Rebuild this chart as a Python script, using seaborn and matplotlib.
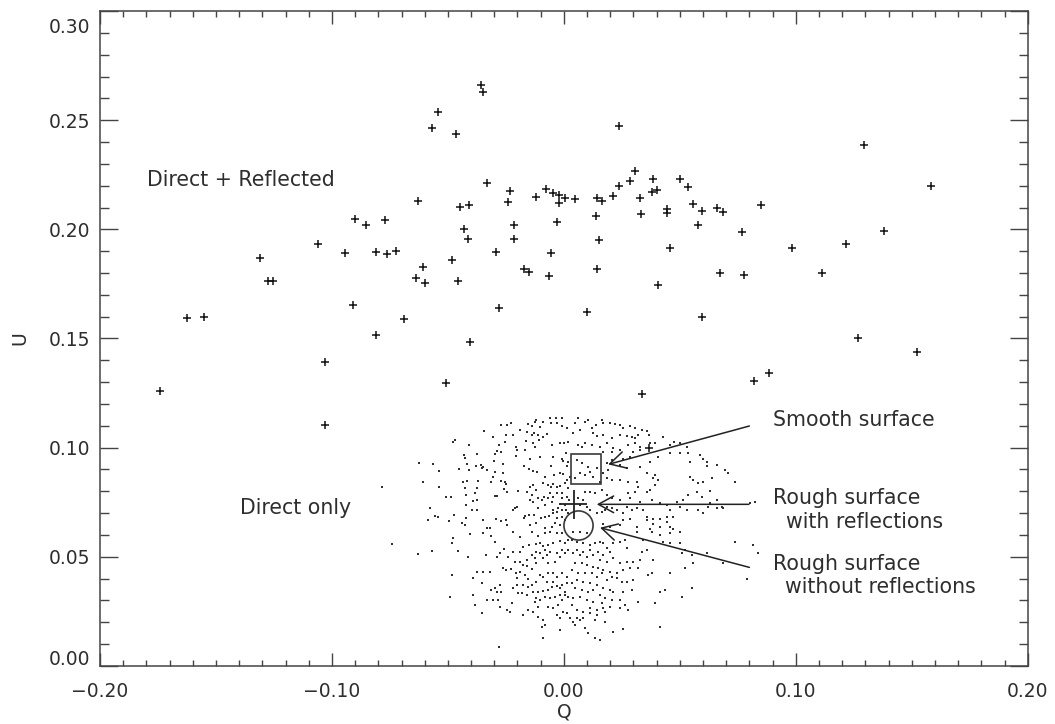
import numpy as np
import pandas as pd
import matplotlib
matplotlib.use("Agg")
import matplotlib.pyplot as plt
import seaborn as sns
from matplotlib.ticker import MultipleLocator, FuncFormatter
import matplotlib.transforms as mtransforms

# ---------------- data (Q, U) ----------------
reflected = [
    (-0.1741, 0.1261), (-0.1626, 0.1593), (-0.1550, 0.1600), (-0.1309, 0.1870),
    (-0.1274, 0.1762), (-0.1253, 0.1762), (-0.1060, 0.1935), (-0.1030, 0.1392),
    (-0.1030, 0.1104), (-0.0944, 0.1890), (-0.0909, 0.1654), (-0.0899, 0.2046),
    (-0.0854, 0.2022), (-0.0770, 0.2043), (-0.0810, 0.1896), (-0.0761, 0.1886),
    (-0.0722, 0.1902), (-0.0689, 0.1588), (-0.0810, 0.1516), (-0.0629, 0.2132),
    (-0.0607, 0.1826), (-0.0637, 0.1776), (-0.0600, 0.1756), (-0.0570, 0.2463),
    (-0.0544, 0.2539), (-0.0509, 0.1297), (-0.0357, 0.2662), (-0.0347, 0.2628),
    (-0.0465, 0.2437), (0.0239, 0.2472), (-0.0330, 0.2211), (-0.0232, 0.2177),
    (-0.0239, 0.2127), (-0.0448, 0.2103), (-0.0408, 0.2110), (-0.0432, 0.2002),
    (-0.0412, 0.1956), (-0.0481, 0.1860), (-0.0456, 0.1765), (-0.0405, 0.1484),
    (-0.0280, 0.1638), (-0.0293, 0.1895), (-0.0214, 0.2020), (-0.0216, 0.1956),
    (-0.0171, 0.1819), (-0.0150, 0.1806), (-0.0065, 0.1786), (-0.0054, 0.1893),
    (-0.0119, 0.2150), (-0.0077, 0.2187), (-0.0048, 0.2168), (-0.0022, 0.2159),
    (-0.0020, 0.2120), (0.0006, 0.2144), (0.0049, 0.2138), (-0.0030, 0.2033),
    (0.0098, 0.1623), (0.0142, 0.2145), (0.0166, 0.2130), (0.0137, 0.2063),
    (0.0153, 0.1951), (0.0142, 0.1819), (0.0211, 0.2154), (0.0238, 0.2200),
    (0.0287, 0.2223), (0.0308, 0.2266), (0.0330, 0.2143), (0.0331, 0.2071),
    (0.0337, 0.1246), (0.0384, 0.2230), (0.0381, 0.2170), (0.0403, 0.2181),
    (0.0446, 0.2092), (0.0443, 0.2074), (0.0458, 0.1913), (0.0405, 0.1744),
    (0.0499, 0.2230), (0.0534, 0.2194), (0.0558, 0.2115), (0.0596, 0.2086),
    (0.0577, 0.2022), (0.0660, 0.2099), (0.0686, 0.2078), (0.0594, 0.1600),
    (0.0673, 0.1799), (0.0768, 0.1989), (0.0778, 0.1791), (0.0849, 0.2110),
    (0.0821, 0.1305), (0.0886, 0.1341), (0.1295, 0.2387), (0.1584, 0.2200),
    (0.1379, 0.1994), (0.1217, 0.1932), (0.0985, 0.1913), (0.1114, 0.1802),
    (0.1270, 0.1502), (0.1524, 0.1438), (0.0367, 0.0997),
]

# direct-only simulated points, in thousandths of (Q, U)
direct_only_milli = [
    (-34.5,107.7),(-48.0,102.7),(-46.8,103.4),(-40.8,101.2),(-30.7,105.0),(-27.3,110.3),(-24.7,110.3),
    (-23.0,111.1),(-25.0,105.7),(-21.8,105.7),(-27.9,101.2),(-25.4,102.4),(-18.9,108.0),(-15.8,107.3),
    (-13.9,105.7),(-12.9,106.8),(-11.0,105.7),(-8.9,105.0),(-7.2,106.2),(-15.4,110.8),(-13.9,109.9),
    (-12.5,111.9),(-11.8,112.6),(-10.3,109.3),(-8.9,111.9),(-6.0,113.4),(-3.4,113.4),(-1.0,113.4),
    (-2.9,111.1),(-0.6,109.9),(1.2,108.8),(-5.7,111.4),(-16.4,103.1),(-13.5,101.9),(-10.6,103.4),
    (-5.3,101.2),(-1.7,102.2),(0.0,101.9),(1.9,102.7),(-20.7,100.1),(-20.1,98.9),(-16.8,98.9),
    (-12.5,100.4),(-28.7,98.6),(-29.7,96.9),(-26.9,98.1),(-37.6,97.1),(-43.1,96.6),(-42.7,95.4),
    (-20.7,96.1),(-14.6,95.0),(-10.3,95.8),(-4.6,95.8),(-0.6,95.0),(0.9,97.6),(1.9,93.5),
    (-30.2,94.0),(-26.4,92.5),(-41.6,92.5),(-37.9,91.7),(-35.9,92.0),(-34.8,91.2),(-33.0,89.7),
    (-35.5,90.5),(-45.4,90.0),(-40.8,89.7),(-62.3,93.1),(-56.3,92.5),(-54.0,89.2),(-17.2,91.6),
    (-15.2,90.3),(-13.5,89.2),(-11.5,88.9),(-5.6,91.6),(-0.3,94.0),(1.2,91.6),(-29.7,88.9),
    (-30.7,86.6),(-26.1,88.5),(-1.7,88.5),(-0.3,87.9),(-4.3,87.4),(-8.0,86.3),(1.2,85.1),
    (2.6,86.6),(-60.9,84.4),(-53.7,82.1),(-78.6,81.8),(-43.4,84.4),(-41.6,84.8),(-36.9,84.8),
    (-31.2,84.4),(-27.3,84.7),(-25.4,84.4),(-25.0,83.3),(-42.7,81.3),(-37.6,81.3),(-42.2,78.2),
    (-38.3,79.3),(-25.8,80.8),(-24.4,79.8),(-19.7,80.1),(-16.1,79.8),(-14.6,81.8),(-13.2,82.8),
    (-11.8,80.5),(-8.9,83.6),(-6.7,82.8),(-5.7,82.1),(-4.6,83.3),(-3.1,82.1),(-1.7,82.4),
    (0.5,83.6),(1.9,81.3),(-50.6,77.5),(-48.8,77.5),(-29.7,77.8),(-28.7,77.8),(-13.9,78.2),
    (-11.0,76.7),(-9.6,75.9),(-8.6,77.5),(-6.7,76.7),(-6.0,79.3),(-4.6,77.5),(-3.1,79.0),
    (-1.0,79.0),(-0.6,76.7),(1.2,77.2),(2.3,75.9),(-5.3,75.2),(-8.2,73.7),(-1.7,74.1),
    (0.5,73.7),(-39.3,75.6),(-37.6,75.9),(-57.5,72.1),(-42.2,73.7),(-39.8,71.4),(-37.3,71.4),
    (-21.8,71.4),(-21.1,72.5),(-20.4,72.9),(-14.6,75.9),(-13.2,75.2),(-11.0,72.1),(-4.6,71.4),
    (-3.1,70.6),(-2.4,72.1),(-1.0,71.4),(0.9,71.4),(1.9,69.8),(-55.6,68.6),(-58.5,66.8),
    (-54.2,68.0),(-49.4,66.3),(-47.4,69.1),(-42.2,67.6),(-42.7,64.5),(-43.7,65.3),(-34.8,66.8),
    (-29.3,67.2),(-26.9,66.5),(-25.0,66.8),(-17.2,67.6),(-16.6,68.6),(-14.9,69.1),(-12.9,69.1),
    (-9.7,67.6),(-8.2,68.3),(-6.3,68.6),(-4.6,69.8),(-2.8,67.6),(-1.0,68.3),(0.5,66.8),
    (-3.9,65.3),(-1.7,64.5),(-33.0,63.0),(-31.9,63.0),(-24.7,64.5),(-14.6,64.5),(-11.8,65.3),
    (-8.2,63.0),(-5.3,63.4),
    (4.8,111.1),(6.2,113.4),(9.1,111.9),(10.6,112.6),(4.1,106.8),(7.0,108.0),(12.0,108.8),
    (13.9,110.3),(16.3,112.6),(17.0,111.1),(19.9,111.4),(22.0,110.8),(24.2,110.3),(25.6,108.8),
    (28.5,109.9),(30.7,108.8),(33.5,108.0),(35.7,107.7),(36.8,105.7),(32.1,105.7),(30.7,104.2),
    (29.2,105.0),(27.1,105.3),(24.2,105.7),(20.6,104.2),(17.0,105.7),(12.7,106.8),(14.1,105.3),
    (9.1,101.9),(6.2,101.2),(7.7,100.4),(12.0,101.2),(15.6,100.4),(18.5,101.9),(21.3,99.6),
    (17.0,98.1),(20.6,98.1),(24.2,98.9),(27.8,101.2),(30.7,101.9),(32.8,100.4),(37.1,101.9),
    (39.3,101.9),(42.9,105.0),(45.8,101.2),(47.5,102.7),(50.1,101.9),(53.0,100.4),(53.7,97.3),
    (50.1,97.3),(45.8,97.6),(40.7,95.8),(37.1,93.5),(32.8,98.9),(30.0,98.1),(28.5,95.8),
    (25.6,95.0),(24.2,92.0),(27.1,90.5),(32.8,91.2),(20.6,94.3),(18.5,92.8),(5.5,94.3),
    (7.7,92.8),(10.6,91.2),(7.0,88.2),(9.1,87.4),(11.3,88.9),(14.1,90.5),(12.7,86.6),
    (4.8,85.9),(54.4,93.5),(58.7,96.6),(60.1,95.0),(61.6,93.5),(61.9,91.5),(65.9,92.0),
    (69.5,89.7),(70.9,88.2),(73.8,84.4),(54.4,86.6),(55.8,85.1),(58.0,83.6),(60.1,84.3),
    (63.7,85.9),(57.3,79.8),(59.4,77.5),(63.0,80.2),(65.9,76.2),(68.0,72.9),(65.9,72.1),
    (62.3,72.9),(60.1,69.8),(58.0,71.4),(53.0,71.4),(50.1,72.9),(45.8,71.4),(47.2,68.3),
    (44.3,66.0),(41.4,67.5),(38.6,67.5),(35.7,68.3),(34.3,71.4),(31.4,72.1),(29.2,71.4),
    (27.1,72.9),(25.6,69.8),(22.8,71.4),(20.6,72.1),(18.5,72.9),(17.7,71.4),(16.3,70.6),
    (14.1,69.8),(11.3,71.4),(9.8,72.9),(7.0,73.6),(8.4,75.9),(6.2,76.7),(9.1,79.8),
    (11.3,79.8),(13.4,79.0),(16.3,80.5),(18.5,78.2),(20.6,76.7),(24.2,75.9),(27.8,79.0),
    (30.7,79.8),(32.1,82.1),(35.7,79.8),(37.1,80.5),(39.3,82.8),(40.7,85.1),(38.6,85.9),
    (39.3,87.4),(35.7,88.2),(31.4,84.3),(27.8,84.3),(24.2,85.1),(20.6,85.1),(18.5,85.9),
    (17.0,88.2),(15.6,84.3),(19.2,89.7),(28.5,76.7),(32.8,75.2),(37.9,76.2),(41.4,74.4),
    (44.3,73.6),(48.6,75.2),(51.5,75.9),(53.7,78.2),(63.0,74.4),(68.8,72.1),(80.2,74.4),
    (82.4,75.2),(45.8,63.7),(47.2,62.9),(38.6,65.2),(35.7,66.8),(28.5,67.5),(25.6,66.8),
    (24.2,64.5),(19.9,63.7),(17.0,65.2),(31.4,63.7),(37.1,62.9),(41.4,63.7),(44.3,68.3),
    (-74.3,55.8),(-62.8,51.2),(-56.7,52.8),(-48.0,58.4),(-48.4,56.4),(-45.5,52.8),(-40.5,60.4),
    (-34.8,61.0),(-31.2,59.5),(-29.7,56.9),(-21.8,61.5),(-18.9,58.9),(-13.9,61.5),(-11.0,59.5),
    (-8.2,60.7),(-6.0,61.5),(-3.1,60.7),(-0.6,61.0),(1.9,57.7),(0.5,56.1),(-1.7,57.3),
    (-4.6,56.1),(-6.7,55.4),(-8.9,54.9),(-10.3,56.1),(-12.0,55.8),(-14.9,55.4),(-17.5,54.6),
    (-18.9,52.3),(-22.1,52.3),(-24.0,49.7),(-25.8,53.4),(-27.6,51.5),(-28.7,49.7),(-33.6,50.8),
    (-41.2,50.0),(-48.1,41.6),(-49.1,31.7),(-39.1,40.1),(-37.6,43.1),(-34.8,42.8),(-31.9,43.1),
    (-35.5,37.8),(-31.2,34.7),(-29.7,35.5),(-27.6,37.0),(-26.9,34.0),(-29.0,34.0),(-26.1,44.7),
    (-25.0,43.9),(-23.0,44.2),(-20.7,42.7),(-20.4,40.1),(-17.5,46.2),(-16.1,45.7),(-13.9,44.2),
    (-11.8,47.0),(-12.5,49.3),(-10.3,51.5),(-8.9,49.3),(-7.4,50.8),(-6.7,47.0),(-3.9,47.7),
    (-1.7,50.0),(0.5,51.5),(1.9,53.1),(-1.0,53.1),(-3.1,51.5),(-6.0,52.3),(-8.2,53.1),
    (-11.8,52.3),(-13.9,50.8),(-16.1,48.5),(-18.9,47.7),(-21.1,47.7),(-18.9,43.1),(-16.8,41.6),
    (-15.4,39.6),(-17.5,37.0),(-15.4,36.3),(-20.4,37.0),(-21.8,35.5),(-22.5,28.6),(-23.3,24.8),
    (-17.5,23.3),(-15.4,25.6),(-13.2,24.8),(-11.0,22.5),(-8.9,21.0),(-8.2,18.7),(-8.9,12.6),
    (-9.6,17.9),(-6.7,27.1),(-4.6,26.3),(-3.1,23.3),(-1.7,21.7),(-0.3,24.8),(1.2,24.0),
    (2.6,21.7),(-2.4,27.9),(-0.6,30.2),(1.9,31.7),(0.5,32.4),(-1.7,32.4),(-3.9,31.7),
    (-6.0,30.9),(-8.2,31.7),(-10.3,30.2),(-11.8,30.9),(-13.2,34.0),(-11.0,34.0),(-8.9,34.4),
    (-6.7,34.7),(-5.3,36.3),(-3.1,36.6),(-1.0,37.0),(1.2,37.8),(1.2,40.8),(-1.0,42.4),
    (-3.1,40.8),(-4.6,42.4),(-6.7,42.4),(-8.9,40.8),(-10.3,41.6),(-11.8,38.6),(-13.9,37.0),
    (-7.4,38.6),(-4.6,38.6),(-1.7,35.5),(0.5,34.0),(-11.0,27.1),(-12.5,29.4),(-16.1,32.4),
    (-18.2,33.2),(-19.7,33.5),(-24.7,25.6),(-27.6,27.1),(-33.3,30.2),(-35.5,24.0),(-38.3,27.9),
    (-39.1,32.4),(-30.4,30.2),(-28.3,30.2),(-1.7,16.4),(-27.9,8.5),
    (4.1,61.5),(7.0,61.5),(9.8,60.7),(3.4,57.7),(5.5,56.9),(8.4,56.1),(11.3,55.4),
    (13.4,56.1),(15.6,56.9),(17.0,56.1),(18.5,53.8),(21.3,56.1),(24.2,56.9),(26.4,57.7),
    (31.4,61.5),(37.9,61.5),(41.4,59.9),(45.8,60.7),(50.1,61.5),(50.1,56.1),(45.8,56.1),
    (42.9,56.9),(34.3,57.7),(27.1,53.8),(19.9,52.3),(17.0,50.8),(14.9,52.3),(11.3,53.1),
    (8.4,52.3),(5.5,53.1),(4.1,51.5),(7.0,50.8),(9.8,50.0),(12.7,50.8),(15.6,48.5),
    (18.5,47.7),(21.3,49.3),(24.2,47.0),(27.1,47.7),(30.0,47.7),(32.8,48.5),(38.6,48.5),
    (35.7,53.1),(33.5,52.3),(50.8,51.5),(52.2,53.1),(55.1,50.8),(61.6,51.5),(73.8,56.9),
    (81.7,55.4),(83.8,51.5),(68.8,47.0),(55.8,47.0),(52.2,44.7),(45.8,42.4),(37.9,42.4),
    (36.4,41.6),(32.1,44.7),(28.5,44.7),(25.6,43.9),(22.8,42.4),(19.9,43.1),(17.0,43.9),
    (14.9,44.7),(12.7,45.4),(9.8,46.2),(7.7,47.0),(4.8,47.0),(3.4,43.9),(6.2,42.4),
    (9.1,42.4),(12.0,42.4),(14.1,40.8),(16.3,42.4),(18.5,39.3),(20.6,40.8),(22.8,40.1),
    (24.9,38.6),(27.1,38.6),(30.0,39.3),(29.2,34.7),(25.6,34.0),(21.3,34.0),(19.9,34.7),
    (17.0,35.5),(14.1,37.0),(11.3,37.8),(8.4,38.6),(5.5,39.3),(3.4,37.8),(4.8,35.5),
    (7.7,34.7),(10.6,34.0),(12.7,34.7),(15.6,32.4),(17.7,30.9),(20.6,30.2),(24.2,30.2),
    (26.4,27.9),(27.8,25.6),(24.2,26.3),(19.9,27.1),(17.0,26.3),(14.1,25.6),(11.3,26.3),
    (8.4,24.8),(5.5,25.6),(3.4,27.9),(4.1,30.9),(7.0,31.7),(9.8,30.2),(12.7,29.4),
    (16.3,28.6),(17.7,24.8),(14.1,23.3),(11.3,24.0),(8.4,21.7),(5.5,21.7),(4.1,20.2),
    (4.8,18.7),(7.0,21.0),(9.1,17.2),(10.6,14.9),(13.4,21.0),(17.7,20.2),(21.3,15.6),
    (25.6,16.7),(32.1,29.4),(39.3,28.6),(41.4,34.0),(43.6,34.7),(50.8,31.7),(55.1,35.5),
    (78.8,39.6),(41.4,17.9),(13.4,12.6),(15.6,11.8),
]

smooth_q, smooth_u = [0.0094], [0.0903]
rough_refl_q, rough_refl_u = [0.0042], [0.0740]
rough_refl_qerr, rough_refl_uerr = [0.0058], [0.0065]
rough_norefl_q, rough_norefl_u = [0.0061], [0.0645]

# ---------------- figure ----------------
sns.set_style("ticks")
plt.rcParams['font.family'] = ['DejaVu Sans']
TXT = '#2e2e2e'
AX = '#444444'

df_ref = pd.DataFrame(reflected, columns=['Q', 'U'])
df_dir = pd.DataFrame(direct_only_milli, columns=['Q', 'U']) / 1000.0

fig = plt.figure(figsize=(10.55, 7.24), dpi=100)
ax = fig.add_axes([0.09479, 0.08039, 0.87933, 0.90414])

sns.scatterplot(data=df_dir, x='Q', y='U', ax=ax, marker='s', s=3.6,
                color='#303030', linewidth=0, legend=False)
sns.scatterplot(data=df_ref, x='Q', y='U', ax=ax, marker='+', s=40,
                color='#111111', linewidth=1.1, legend=False)

# special symbols
ax.plot(smooth_q, smooth_u, marker='s', ms=21, mfc='none', mec='#3a3a3a', mew=1.2, ls='none')
ax.plot(rough_norefl_q, rough_norefl_u, marker='o', ms=21, mfc='none', mec='#3a3a3a', mew=1.2, ls='none')
ax.errorbar(rough_refl_q, rough_refl_u, xerr=rough_refl_qerr, yerr=rough_refl_uerr,
            fmt='none', ecolor='#222222', elinewidth=1.3, capsize=0)

ax.set_xlim(-0.20, 0.20)
ax.set_ylim(0.0, 0.30)

def fmt(v, pos):
    if abs(v) < 1e-9:
        v = 0.0
    return f"{v:.2f}".replace('-', '\u2212')

ax.xaxis.set_major_locator(MultipleLocator(0.10))
ax.xaxis.set_minor_locator(MultipleLocator(0.01))
ax.yaxis.set_major_locator(MultipleLocator(0.05))
ax.yaxis.set_minor_locator(MultipleLocator(0.01))
ax.xaxis.set_major_formatter(FuncFormatter(fmt))
ax.yaxis.set_major_formatter(FuncFormatter(fmt))

ax.tick_params(axis='both', which='both', direction='in', top=True, right=True,
               colors=AX, labelcolor=TXT, labelsize=13.5)
ax.tick_params(axis='x', which='major', length=9.5, width=1.0, pad=12)
ax.tick_params(axis='x', which='minor', length=4.5, width=1.0)
ax.tick_params(axis='y', which='major', length=13, width=1.0, pad=7)
ax.tick_params(axis='y', which='minor', length=6.5, width=1.0)
for sp in ax.spines.values():
    sp.set_color(AX)
    sp.set_linewidth(1.1)

ax.set_xlabel('Q', fontsize=13.5, color=TXT, labelpad=1)
ax.set_ylabel('U', fontsize=13.5, color=TXT, labelpad=14)

# nudge the end labels on the y-axis inward (as in the original)
fig.canvas.draw()
for lab in ax.get_yticklabels():
    if lab.get_text() == '0.30':
        lab.set_transform(lab.get_transform() + mtransforms.ScaledTranslation(0, -0.145, fig.dpi_scale_trans))
    if lab.get_text() == '0.00':
        lab.set_transform(lab.get_transform() + mtransforms.ScaledTranslation(0, 0.083, fig.dpi_scale_trans))

# text labels
FS = 14.8
ax.text(-0.1797, 0.2199, 'Direct + Reflected', fontsize=FS, color=TXT, va='baseline', ha='left')
ax.text(-0.1396, 0.0695, 'Direct only', fontsize=FS, color=TXT, va='baseline', ha='left')
ax.text(0.0900, 0.1099, 'Smooth surface', fontsize=FS, color=TXT, va='baseline', ha='left')
ax.text(0.0900, 0.0742, 'Rough surface', fontsize=FS, color=TXT, va='baseline', ha='left')
ax.text(0.0959, 0.0633, 'with reflections', fontsize=FS, color=TXT, va='baseline', ha='left')
ax.text(0.0900, 0.0439, 'Rough surface', fontsize=FS, color=TXT, va='baseline', ha='left')
ax.text(0.0955, 0.0335, 'without reflections', fontsize=FS, color=TXT, va='baseline', ha='left')

arrow = dict(arrowstyle='->,head_length=0.55,head_width=0.3', lw=1.1, color='#222222',
             shrinkA=0, shrinkB=0, mutation_scale=20)
ax.annotate('', xy=(0.0191, 0.0923), xytext=(0.0800, 0.1099), arrowprops=arrow)
ax.annotate('', xy=(0.0142, 0.0740), xytext=(0.0798, 0.0740), arrowprops=arrow)
ax.annotate('', xy=(0.0156, 0.0633), xytext=(0.0800, 0.0451), arrowprops=arrow)

fig.savefig('out.png', dpi=100)
